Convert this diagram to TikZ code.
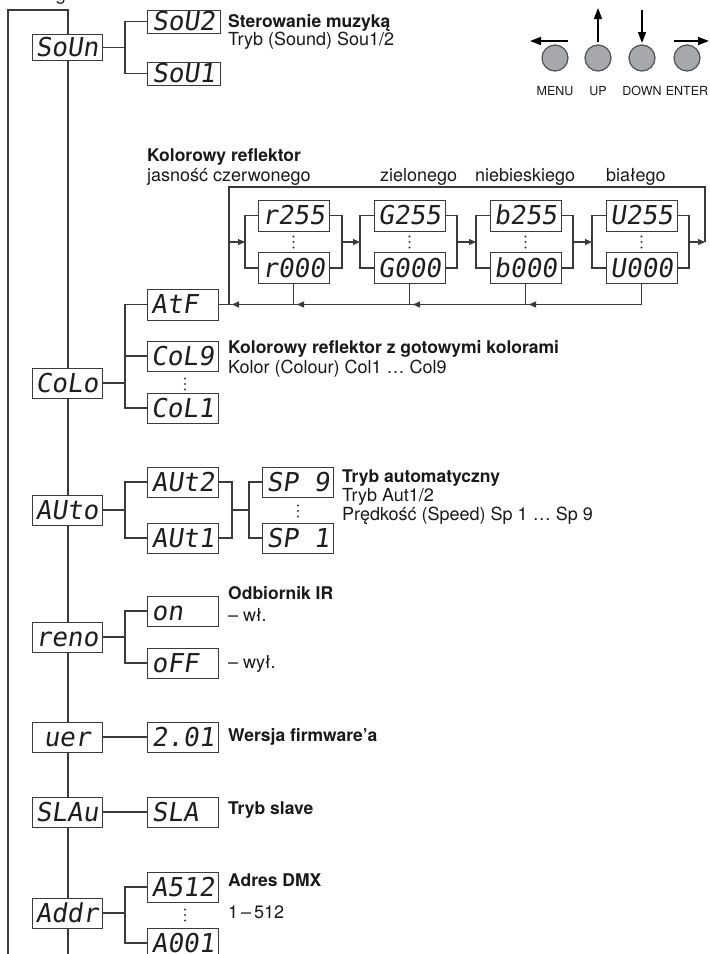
\documentclass[tikz,border=0pt]{standalone}
\usepackage{fontspec}
\setmainfont{TeX Gyre Heros}
\newfontfamily\segfont{DejaVu Sans Mono}[FakeSlant=0.15]
\usetikzlibrary{arrows.meta}
\definecolor{linec}{HTML}{3A3A3A}
\definecolor{btnfill}{HTML}{A6A8AB}
\definecolor{btnline}{HTML}{505050}
\definecolor{segc}{HTML}{1E1E1E}
\begin{document}
\begin{tikzpicture}[x=1pt,y=-1pt,
  disp/.style={draw=linec, fill=white, line width=1pt, minimum width=71pt, minimum height=30pt,
    inner sep=0pt, text height=18.5pt, text depth=0pt,
    font=\segfont\fontsize{26}{26}\selectfont, text=segc},
  mainbox/.style={disp, minimum width=70pt},
  ln/.style={draw=linec, line width=1.1pt},
  ar/.style={ln, -{Triangle[length=7pt,width=6pt]}},
  bar/.style={draw=black, line width=1.6pt, -{Triangle[length=11pt,width=8pt]}},
  lbl/.style={anchor=base west, inner sep=0pt, font=\fontsize{18}{20}\selectfont, text=black!90},
  blbl/.style={lbl, font=\fontsize{17.5}{20}\selectfont\bfseries},
  btn/.style={circle, draw=btnline, fill=btnfill, line width=1.2pt, minimum size=26pt, inner sep=0pt},
  btnlbl/.style={anchor=base, inner sep=0pt, font=\fontsize{12.5}{14}\selectfont, text=black!90},
  vdot/.style={inner sep=0pt, minimum width=4pt, minimum height=16pt,
    path picture={\fill[linec] ([yshift=-5.5pt]path picture bounding box.center) circle (1.05pt)
      (path picture bounding box.center) circle (1.05pt)
      ([yshift=5.5pt]path picture bounding box.center) circle (1.05pt);}}]
\useasboundingbox (0,0) rectangle (710,954);
\clip (0,0) rectangle (710,954);

% outer frame lines
\coordinate (oBL) at (8,960);
\coordinate (oTL) at (8,10);
\coordinate (oTR) at (68,10);
\coordinate (oBR) at (68,960);
\draw[ln] (oBL) -- (oTL) -- (oTR) -- (oBR);
\node[lbl, anchor=base] (gfrag) at (61,0.5) {g};

% ---------- Sound ----------
\node[mainbox, minimum height=26pt] (soun) at (67,47.5) {SoUn};
\node[disp, minimum height=23pt, minimum width=73pt] (sou2) at (183.5,21.5) {SoU2};
\node[disp, minimum height=23pt, minimum width=73pt] (sou1) at (183.5,73.5) {SoU1};
\coordinate (bS) at (125,47.5);
\draw[ln] (sou2.west) -| (bS) |- (sou1.west);
\draw[ln] (soun.east) -- (bS);
\node[blbl] (tsou1) at (228,27) {Sterowanie muzyką};
\node[lbl] (tsou2) at (228,45) {Tryb (Sound) Sou1/2};

% ---------- buttons ----------
\node[btn] (bmenu) at (555,58) {};
\node[btn] (bup) at (598,58) {};
\node[btn] (bdown) at (642,58) {};
\node[btn] (benter) at (687,58) {};
\node[btnlbl] (lmenu) at (555,95) {MENU};
\node[btnlbl] (lup) at (598,95) {UP};
\node[btnlbl] (ldown) at (642,95) {DOWN};
\node[btnlbl] (lenter) at (687,95) {ENTER};
\coordinate (amS) at (568,41); \coordinate (amE) at (530,41);
\coordinate (auS) at (598,42); \coordinate (auE) at (598,8);
\coordinate (adS) at (642,10); \coordinate (adE) at (642,43);
\coordinate (aeS) at (674,41); \coordinate (aeE) at (709,41);
\draw[bar] (amS) -- (amE);
\draw[bar] (auS) -- (auE);
\draw[bar] (adS) -- (adE);
\draw[bar] (aeS) -- (aeE);

% ---------- Colour ----------
\node[blbl] (kolt) at (147,161) {Kolorowy reflektor};
\node[lbl] (kolr) at (147,181) {jasność czerwonego};
\node[lbl] (kolg) at (380,181) {zielonego};
\node[lbl] (kolb) at (475,181) {niebieskiego};
\node[lbl] (kolw) at (606,181) {białego};

\node[disp, minimum height=31pt] (r255) at (293.5,215.5) {r255};
\node[disp, minimum height=31pt] (r000) at (293.5,268) {r000};
\node[disp, minimum height=31pt] (g255) at (409.5,215.5) {G255};
\node[disp, minimum height=31pt] (g000) at (409.5,268) {G000};
\node[disp, minimum height=31pt] (b255) at (525.5,215.5) {b255};
\node[disp, minimum height=31pt] (b000) at (525.5,268) {b000};
\node[disp, minimum height=31pt] (u255) at (641.5,215.5) {U255};
\node[disp, minimum height=31pt] (u000) at (641.5,268) {U000};
\node[vdot] (dr) at (293.5,242) {};
\node[vdot] (dg) at (409.5,242) {};
\node[vdot] (db) at (525.5,242) {};
\node[vdot] (du) at (641.5,242) {};

\coordinate (rL) at (245,242); \coordinate (rR) at (342,242);
\coordinate (gL) at (360,242); \coordinate (gR) at (457,242);
\coordinate (bL) at (476,242); \coordinate (bR) at (573,242);
\coordinate (uL) at (592,242); \coordinate (uR) at (689,242);
\coordinate (loopR) at (705,242); \coordinate (loopTR) at (705,187);
\coordinate (loopTL) at (229,187); \coordinate (loopL) at (229,242);

\draw[ln] (r255.west) -| (rL) |- (r000.west);
\draw[ln] (r255.east) -| (rR) |- (r000.east);
\draw[ln] (g255.west) -| (gL) |- (g000.west);
\draw[ln] (g255.east) -| (gR) |- (g000.east);
\draw[ln] (b255.west) -| (bL) |- (b000.west);
\draw[ln] (b255.east) -| (bR) |- (b000.east);
\draw[ln] (u255.west) -| (uL) |- (u000.west);
\draw[ln] (u255.east) -| (uR) |- (u000.east);
\draw[ar] (loopL) -- (rL);
\draw[ar] (rR) -- (gL);
\draw[ar] (gR) -- (bL);
\draw[ar] (bR) -- (uL);
\draw[ar] (uR) -- (loopR);

\node[disp, minimum height=31pt] (atf) at (182.5,304.5) {AtF\hphantom{0}};
\coordinate (loopB) at (loopTL |- atf.east);
\draw[ln] (loopR) -- (loopTR) -- (loopTL) -- (loopB);
\draw[ln] (u000.south) |- (atf.east);
\coordinate (jr) at (r000.south |- atf.east);
\coordinate (jg) at (g000.south |- atf.east);
\coordinate (jb) at (b000.south |- atf.east);
\draw[ln] (r000.south) -- (jr);
\draw[ln] (g000.south) -- (jg);
\draw[ln] (b000.south) -- (jb);
\draw[ar] ([xshift=14pt]loopB) -- ([xshift=3pt]loopB);
\draw[ar] ([xshift=14pt]jr) -- ([xshift=3.5pt]jr);
\draw[ar] ([xshift=14pt]jg) -- ([xshift=3.5pt]jg);
\draw[ar] ([xshift=14pt]jb) -- ([xshift=3.5pt]jb);

\node[disp] (col9) at (182.5,356) {CoL9};
\node[disp] (col1) at (182.5,408) {CoL1};
\node[vdot] (dc) at (185,384) {};
\node[mainbox] (colo) at (67,383) {CoLo};
\coordinate (cL) at (125,356);
\draw[ln] (atf.west) -| (cL) |- (col1.west);
\draw[ln] (col9.west) -- (cL);
\draw[ln] (colo.east) -- (colo.east -| cL);
\node[blbl] (tcol1) at (228,353) {Kolorowy reflektor z gotowymi kolorami};
\node[lbl] (tcol2) at (228,373) {Kolor (Colour) Col1 … Col9};

% ---------- Auto ----------
\node[mainbox] (auto) at (67,510) {AUto};
\node[disp] (aut2) at (183,482) {AUt2};
\node[disp] (aut1) at (183,538) {AUt1};
\node[disp] (sp9) at (298,482) {SP\hphantom{0}9};
\node[disp] (sp1) at (298,538) {SP\hphantom{0}1};
\node[vdot] (ds) at (298,511) {};
\coordinate (aL) at (125,510); \coordinate (aR) at (232,510); \coordinate (sL) at (249,510);
\draw[ln] (aut2.west) -| (aL) |- (aut1.west);
\draw[ln] (auto.east) -- (aL);
\draw[ln] (aut2.east) -| (aR) |- (aut1.east);
\draw[ln] (aR) -- (sL);
\draw[ln] (sp9.west) -| (sL) |- (sp1.west);
\node[blbl] (taut1) at (342,482) {Tryb automatyczny};
\node[lbl] (taut2) at (342,501) {Tryb Aut1/2};
\node[lbl] (taut3) at (342,520) {Prędkość (Speed) Sp 1 … Sp 9};

% ---------- IR ----------
\node[mainbox] (reno) at (67,637) {reno};
\node[disp] (on) at (183,611) {on\hphantom{00}};
\node[disp] (off) at (183,663) {oFF\hphantom{0}};
\coordinate (bR2) at (125,637);
\draw[ln] (on.west) -| (bR2) |- (off.west);
\draw[ln] (reno.east) -- (bR2);
\node[blbl] (tir1) at (228,599) {Odbiornik IR};
\node[lbl] (tir2) at (228,621) {– wł.};
\node[lbl] (tir3) at (228,668) {– wył.};

% ---------- Version ----------
\node[mainbox] (uer) at (67,737) {uer};
\node[disp] (v201) at (183,737) {2.01};
\draw[ln] (uer.east) -- (v201.west);
\node[blbl] (tver) at (228,741) {Wersja firmware’a};

% ---------- Slave ----------
\node[mainbox] (slau) at (67,812) {SLAu};
\node[disp] (sla) at (183,812) {SLA\hphantom{0}};
\draw[ln] (slau.east) -- (sla.west);
\node[blbl] (tsla) at (228,814) {Tryb slave};

% ---------- DMX ----------
\node[mainbox] (addr) at (67,913) {Addr};
\node[disp] (a512) at (183,887) {A512};
\node[disp] (a001) at (183,943) {A001};
\node[vdot] (da) at (185,915) {};
\coordinate (bA) at (125,913);
\draw[ln] (a512.west) -| (bA) |- (a001.west);
\draw[ln] (addr.east) -- (bA);
\node[blbl] (tdmx1) at (228,886) {Adres DMX};
\node[lbl] (tdmx2) at (228,918) {1\,–\,512};
\end{tikzpicture}
\end{document}
